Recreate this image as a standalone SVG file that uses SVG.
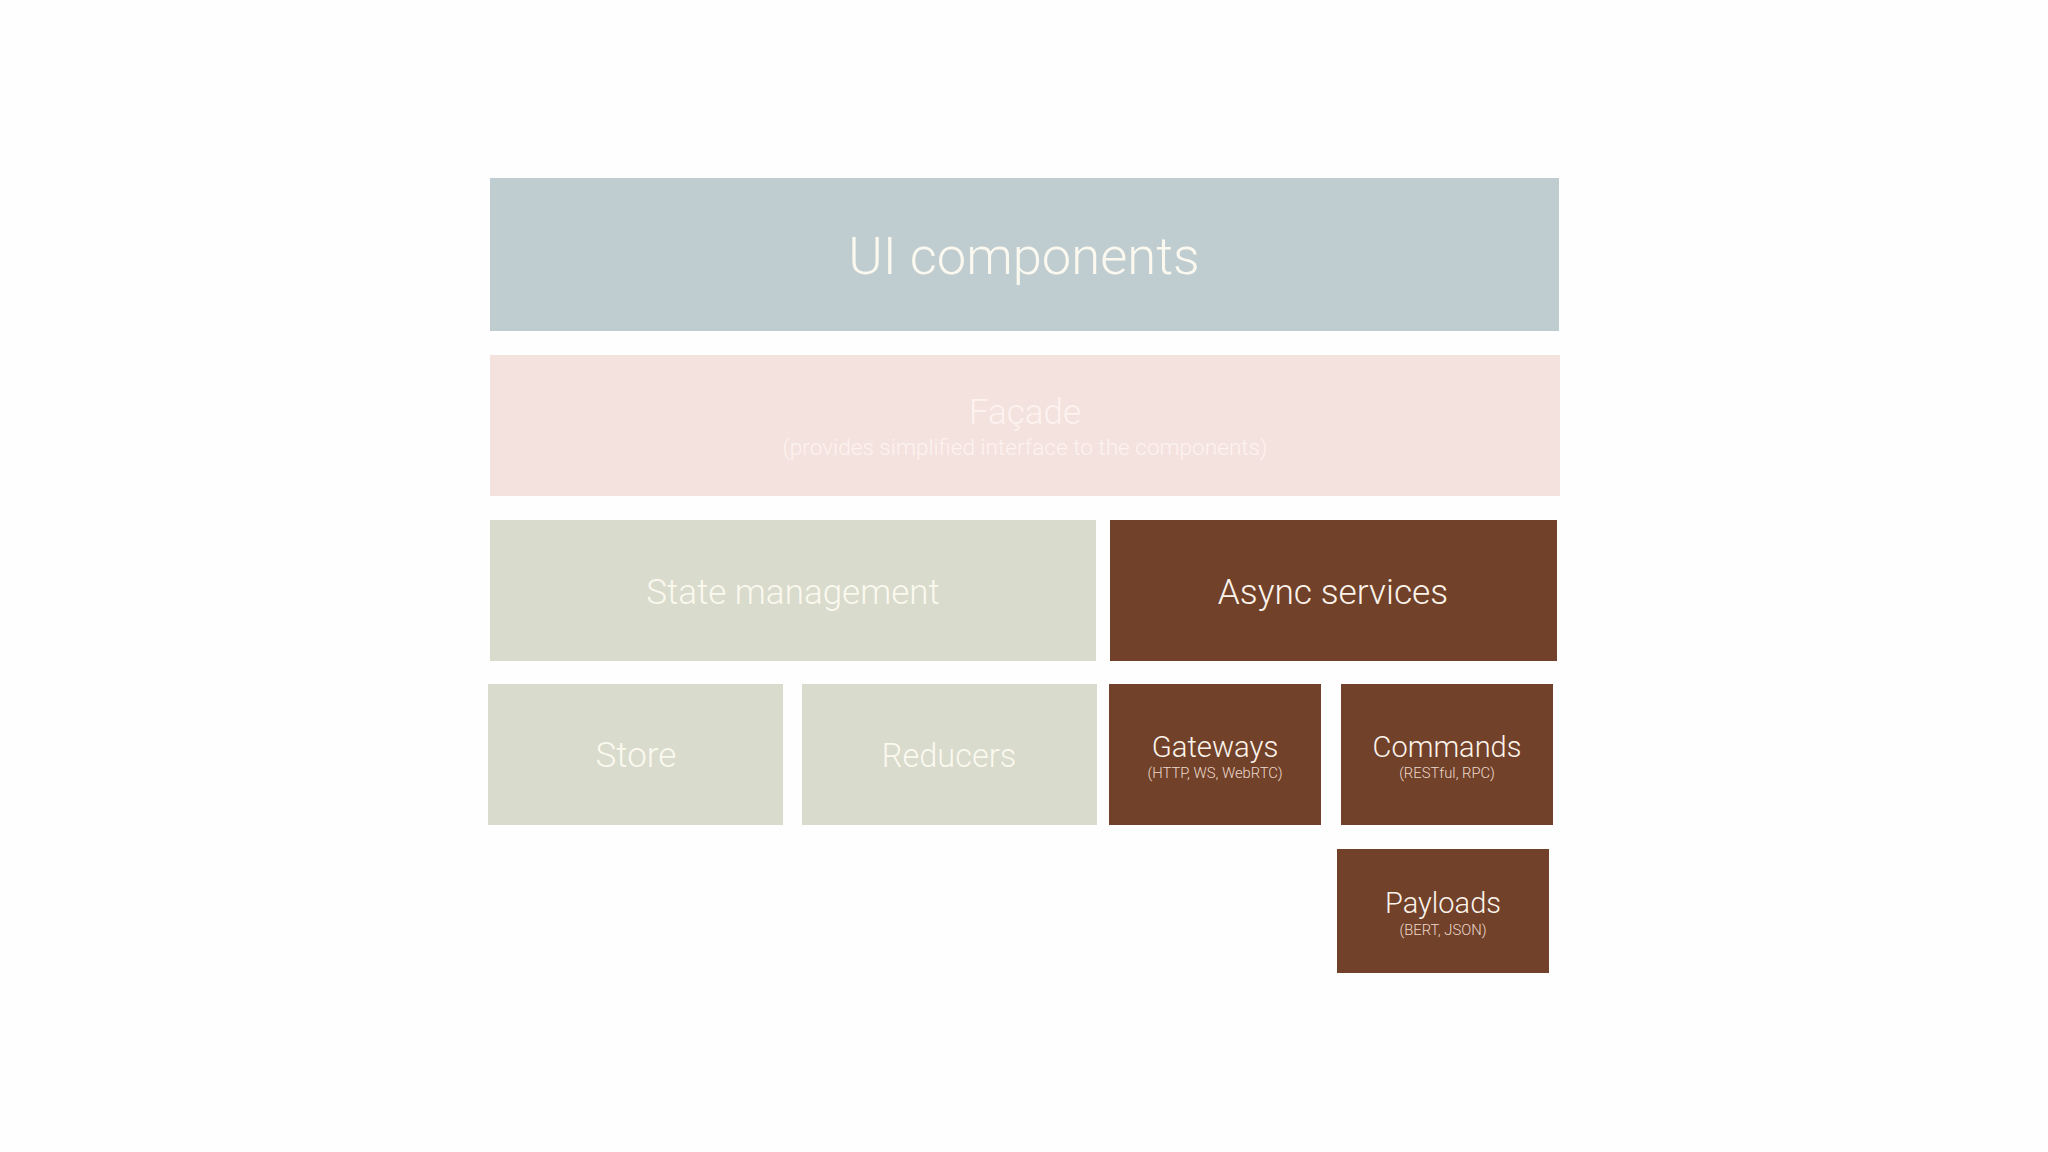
<svg xmlns="http://www.w3.org/2000/svg" width="2048" height="1152" viewBox="0 0 2048 1152">
  <style>
    text { font-family: Roboto, "Liberation Sans", Arial, sans-serif; font-weight: 300; text-anchor: middle; }
    .ui { fill: #bfccd0; }
    .fac { fill: #f4e2df; }
    .state { fill: #d9dbcd; }
    .brown { fill: #71412a; }
    .lt { fill: #fbf9ef; }
    .ft { fill: #fdf3ef; }
    .wt { fill: #fbf3ea; }
    .st { fill: #ecd9cc; font-size: 14.8px; }
  </style>
  <rect width="2048" height="1152" fill="#fefefe"/>
  <g id="ui-components">
    <rect class="ui" x="490" y="178" width="1069" height="153"/>
    <text class="lt" x="1024" y="274" font-size="52.5">UI components</text>
  </g>
  <g id="facade">
    <rect class="fac" x="490" y="355" width="1070" height="141"/>
    <text class="ft" x="1025" y="424" font-size="35">Façade</text>
    <text class="ft" x="1025" y="455" font-size="22.6">(provides simplified interface to the components)</text>
  </g>
  <g id="state-management">
    <rect class="state" x="490" y="520" width="606" height="141"/>
    <text class="lt" x="793" y="604" font-size="35">State management</text>
  </g>
  <g id="async-services">
    <rect class="brown" x="1110" y="520" width="447" height="141"/>
    <text class="wt" x="1333" y="604" font-size="35.3">Async services</text>
  </g>
  <g id="store">
    <rect class="state" x="488" y="684" width="295" height="141"/>
    <text class="lt" x="636" y="767" font-size="35">Store</text>
  </g>
  <g id="reducers">
    <rect class="state" x="802" y="684" width="295" height="141"/>
    <text class="lt" x="949" y="767" font-size="32.5">Reducers</text>
  </g>
  <g id="gateways">
    <rect class="brown" x="1109" y="684" width="212" height="141"/>
    <text class="wt" x="1215" y="757" font-size="29.3">Gateways</text>
    <text class="st" x="1215" y="778">(HTTP, WS, WebRTC)</text>
  </g>
  <g id="commands">
    <rect class="brown" x="1341" y="684" width="212" height="141"/>
    <text class="wt" x="1447" y="757" font-size="29">Commands</text>
    <text class="st" x="1447" y="778">(RESTful, RPC)</text>
  </g>
  <g id="payloads">
    <rect class="brown" x="1337" y="849" width="212" height="124"/>
    <text class="wt" x="1443" y="913" font-size="29">Payloads</text>
    <text class="st" x="1443" y="935">(BERT, JSON)</text>
  </g>
  <g id="connectors"></g>
</svg>
